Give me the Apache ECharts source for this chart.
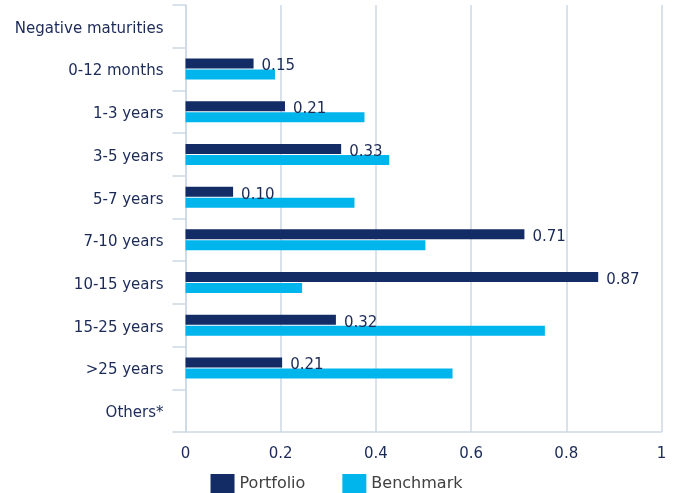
<!DOCTYPE html>
<html>
<head>
<meta charset="utf-8">
<script src="https://cdn.jsdelivr.net/npm/echarts@6/dist/echarts.min.js"></script>
<style>
html,body{margin:0;padding:0;background:#fff;}
#chart{width:673px;height:493px;}
</style>
</head>
<body>
<div id="chart"></div>
<script>
const categories = ["Negative maturities","0-12 months","1-3 years","3-5 years","5-7 years","7-10 years","10-15 years","15-25 years",">25 years","Others*"];
const portfolio = [null,0.143,0.209,0.327,0.100,0.712,0.867,0.316,0.203,null];
const portfolioLabels = [null,"0.15","0.21","0.33","0.10","0.71","0.87","0.32","0.21",null];
const benchmark = [null,0.188,0.376,0.428,0.355,0.504,0.245,0.755,0.561,null];
const xTicks = {min:0,max:1,interval:0.2};

const navy = '#132c66';
const cyan = '#00b5eb';
const gridCol = '#cdd8e5';
const txt = '#1b2a57';
const font = 'DejaVu Sans, Verdana, sans-serif';

const chart = echarts.init(document.getElementById('chart'));
chart.setOption({
  animation:false,
  grid:{left:185.5,right:11.5,top:5,bottom:61,containLabel:false},
  legend:{
    top:469,left:'center',itemWidth:24,itemHeight:19,itemGap:37,
    icon:'rect',
    textStyle:{color:'#404040',fontSize:16,fontFamily:font},
    data:['Portfolio','Benchmark']
  },
  xAxis:{
    type:'value',min:xTicks.min,max:xTicks.max,interval:xTicks.interval,
    axisLine:{show:true,lineStyle:{color:gridCol,width:1.5}},
    axisTick:{show:false},
    splitLine:{show:true,lineStyle:{color:gridCol,width:1.5}},
    axisLabel:{color:txt,fontSize:15,fontFamily:font,margin:15,formatter:v=>String(v)}
  },
  yAxis:{
    type:'category',inverse:true,data:categories,
    axisLine:{show:true,lineStyle:{color:gridCol,width:1.5}},
    axisTick:{show:true,length:13,lineStyle:{color:gridCol,width:1.5}},
    axisLabel:{color:txt,fontSize:15,fontFamily:font,margin:22,
      formatter:v=>'{a|'+v+'}',
      rich:{a:{color:txt,fontSize:15,fontFamily:font,padding:[5,0,0,0]}}},
    splitLine:{show:false}
  },
  series:[
    {name:'Portfolio',type:'bar',data:portfolio,barWidth:10,barGap:'10%',
     itemStyle:{color:navy},
     label:{show:true,position:'right',distance:8,color:txt,fontSize:15,fontFamily:font,offset:[0,3],
       formatter:p=>portfolioLabels[p.dataIndex]||''}},
    {name:'Benchmark',type:'bar',data:benchmark,barWidth:10,
     itemStyle:{color:cyan}}
  ]
});
</script>
</body>
</html>
